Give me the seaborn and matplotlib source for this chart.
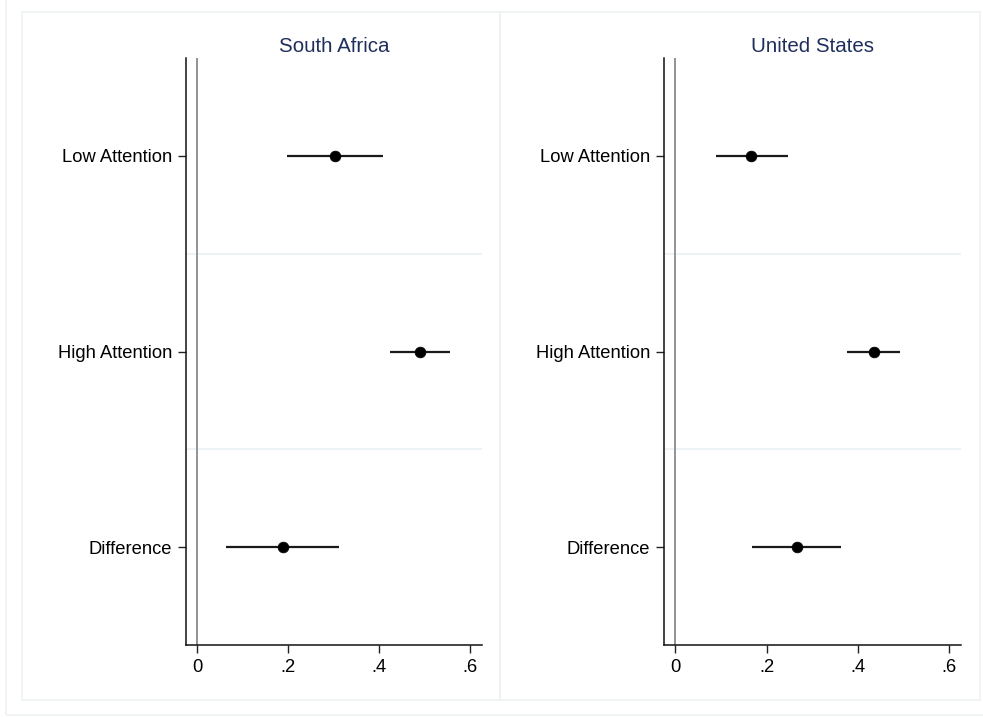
import matplotlib
matplotlib.use("Agg")
import matplotlib.pyplot as plt
from matplotlib.patches import Rectangle
import seaborn as sns
import pandas as pd

# Estimates and 95% confidence bounds by country
terms = ["Low Attention", "High Attention", "Difference"]
countries = ["South Africa", "United States"]

sa_est = [0.303, 0.489, 0.188]
sa_lo = [0.197, 0.4235, 0.063]
sa_hi = [0.408, 0.555, 0.312]

us_est = [0.166, 0.4345, 0.2675]
us_lo = [0.090, 0.376, 0.168]
us_hi = [0.246, 0.493, 0.363]

xticks = [0, 0.2, 0.4, 0.6]
xticklabels = ["0", ".2", ".4", ".6"]

rows = []
for country, est, lo, hi in [("South Africa", sa_est, sa_lo, sa_hi),
                             ("United States", us_est, us_lo, us_hi)]:
    for t, e, l, h in zip(terms, est, lo, hi):
        rows.append({"country": country, "term": t, "est": e, "lo": l, "hi": h})
df = pd.DataFrame(rows)

sns.set_theme(style="white")
plt.rcParams["font.family"] = ["Liberation Sans", "DejaVu Sans"]

W, H = 983, 717
fig = plt.figure(figsize=(W / 100, H / 100), dpi=100)
fig.patch.set_facecolor("white")

border = "#edf2f4"
# outer graph region and the two panel frames (pixel coordinates from top-left)
def px_rect(x0, y0, x1, y1, **kw):
    fig.add_artist(Rectangle((x0 / W, 1 - y1 / H), (x1 - x0) / W, (y1 - y0) / H,
                             transform=fig.transFigure, fill=False, **kw))

px_rect(6, -10, 995, 715, edgecolor=border, lw=1.2)
px_rect(22, 12, 500, 700, edgecolor=border, lw=1.2)
px_rect(500, 12, 980, 700, edgecolor=border, lw=1.2)

axes_px = [(186, 482), (664, 961)]
top_px, bot_px = 58, 645

for (x0, x1), country in zip(axes_px, countries):
    ax = fig.add_axes([x0 / W, 1 - bot_px / H, (x1 - x0) / W, (bot_px - top_px) / H])
    ax.set_facecolor("white")
    sub = df[df["country"] == country]

    ax.hlines(sub["term"], sub["lo"], sub["hi"], color="#1a1a1a", lw=1.6, zorder=3)
    sns.scatterplot(data=sub, x="est", y="term", ax=ax, color="black", s=60,
                    edgecolor="black", linewidth=0.5, zorder=4, legend=False)

    ax.set_ylim(2.5, -0.5)
    ax.set_xlim(-0.0248, 0.6257)
    for yb in (0.5, 1.5):
        ax.axhline(yb, color="#eaf0f2", lw=1.2, zorder=1)
    ax.axvline(0, color="#8a8a8a", lw=1.3, zorder=2)

    ax.set_xticks(xticks)
    ax.set_xticklabels(xticklabels)
    ax.set_yticks(range(len(terms)))
    ax.set_yticklabels(terms)
    ax.tick_params(axis="both", which="major", direction="out", length=6, width=1,
                   color="#222222", labelsize=13.2, labelcolor="black", pad=4,
                   left=True, bottom=True)
    ax.set_xlabel("")
    ax.set_ylabel("")
    for side in ("top", "right"):
        ax.spines[side].set_visible(False)
    for side in ("left", "bottom"):
        ax.spines[side].set_visible(True)
        ax.spines[side].set_color("#111111")
        ax.spines[side].set_linewidth(1.1)
    ax.set_title(country, fontsize=14.8, color="#1e2f5c", pad=4)

fig.savefig("out.png", dpi=100, facecolor="white")
